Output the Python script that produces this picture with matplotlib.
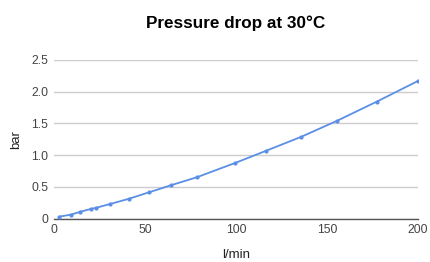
import matplotlib.pyplot as plt

# Flow rate (l/min) and pressure drop (bar)
flow = [2.9, 9.2, 14.3, 20.1, 23.3, 31.0, 41.0, 52.4, 64.3, 78.4,
        99.6, 116.3, 135.7, 155.7, 177.3, 200.0]
pressure = [0.03, 0.06, 0.105, 0.15, 0.17, 0.23, 0.31, 0.415, 0.525, 0.65,
            0.877, 1.066, 1.287, 1.544, 1.843, 2.17]

x_ticks = [0, 50, 100, 150, 200]
y_ticks = [0, 0.5, 1.0, 1.5, 2.0, 2.5]
y_labels = ["0", "0.5", "1.0", "1.5", "2.0", "2.5"]

plt.rcParams['font.family'] = ['Liberation Sans', 'DejaVu Sans']

fig = plt.figure(figsize=(4.31, 2.62), dpi=100)
ax = fig.add_axes([0.1253, 0.166, 0.8447, 0.605])

ax.plot(flow, pressure, color='#5B8FE6', lw=1.3, marker='o', ms=2.0,
        solid_capstyle='round', zorder=3)

ax.set_xlim(0, 200)
ax.set_ylim(0, 2.5)
ax.set_xticks(x_ticks)
ax.set_yticks(y_ticks)
ax.set_yticklabels(y_labels)
ax.grid(axis='y', color='#cccccc', lw=1)
ax.set_axisbelow(True)
for s in ['top', 'right', 'left']:
    ax.spines[s].set_visible(False)
ax.spines['bottom'].set_color('#555555')
ax.spines['bottom'].set_linewidth(1)
ax.tick_params(length=0, labelsize=8.7, colors='#444444', pad=4)

ax.set_xlabel("l/min", fontsize=9.5, color='#222222', labelpad=9)
ax.set_ylabel("bar", fontsize=9.5, color='#222222', labelpad=7)
ax.set_title("Pressure drop at 30°C", fontsize=12.3, fontweight='bold',
             color='#000000', pad=23)

fig.savefig("out.png", dpi=100)
